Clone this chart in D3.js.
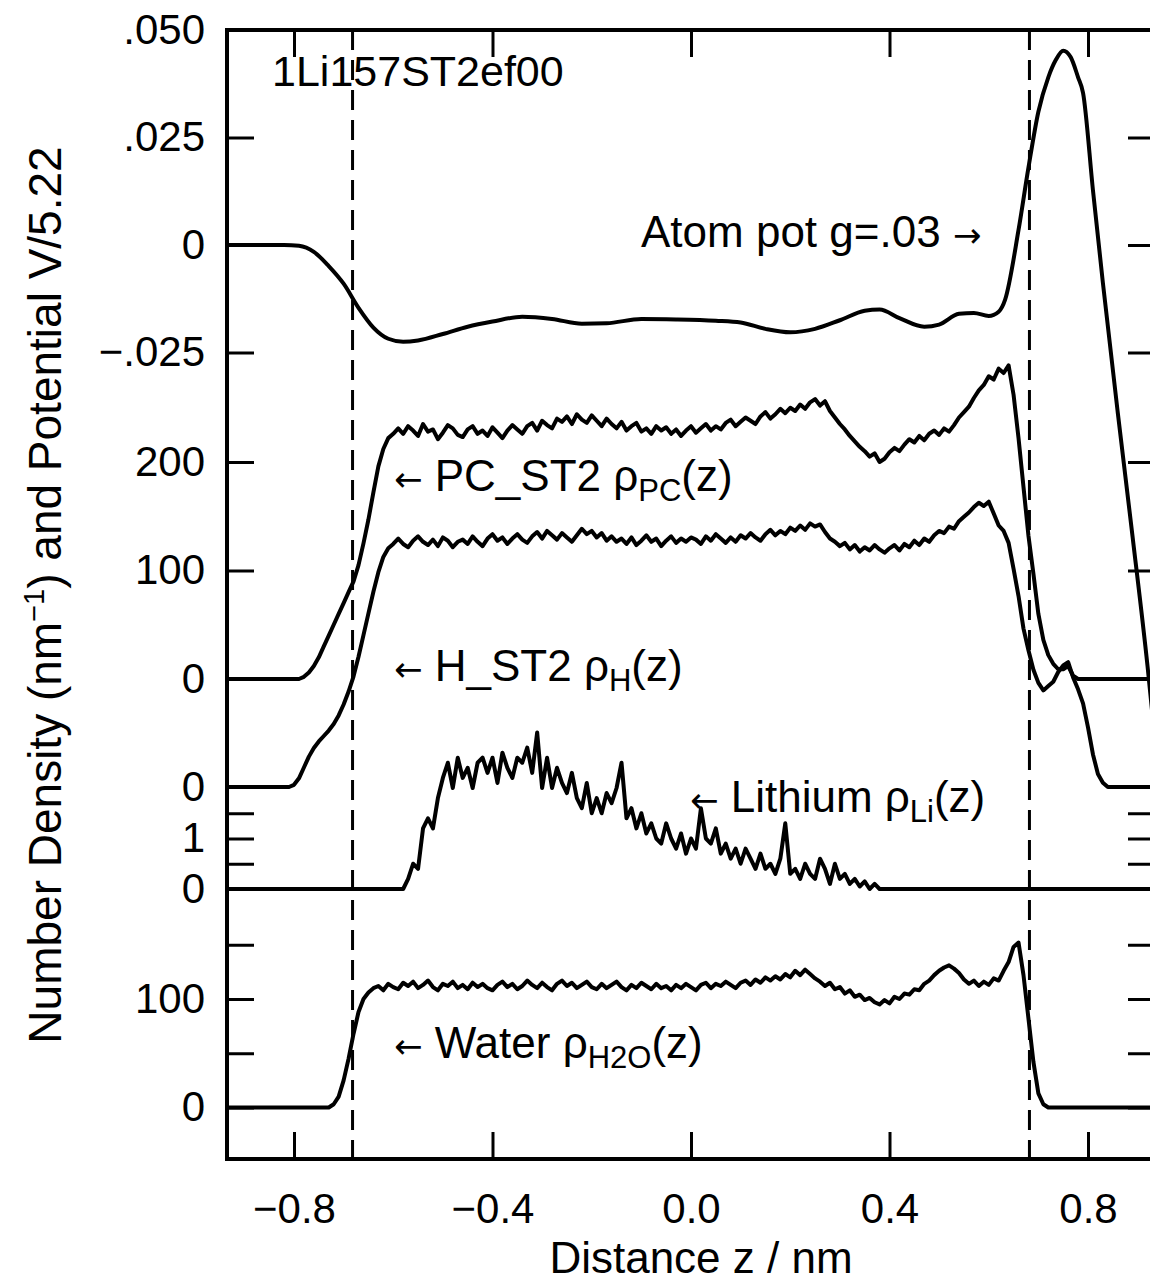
<!DOCTYPE html>
<html>
<head>
<meta charset="utf-8">
<script src="https://cdn.jsdelivr.net/npm/d3@7"></script>
<style>
  body { margin: 0; background: #fff; }
  svg { display: block; font-family: "Liberation Sans", Arial, Helvetica, sans-serif; }
</style>
</head>
<body>
<script>
// z grid used by the density profiles (nm)
const zStep = 0.01;
const zTicks = [-0.8, -0.4, 0, 0.4, 0.8];
const interfaceZ = [-0.682, 0.682];

// Atom potential V/5.22 (smooth curve) : [z, value]
const potPoints = [
  [-0.935, 0], [-0.82, 0], [-0.79, -0.0002], [-0.76, -0.0016], [-0.73, -0.0049], [-0.70, -0.009],
  [-0.67, -0.0146], [-0.64, -0.0192], [-0.61, -0.0218], [-0.58, -0.0225], [-0.55, -0.0222], [-0.50, -0.0207],
  [-0.45, -0.019], [-0.40, -0.0178], [-0.34, -0.0167], [-0.28, -0.0172], [-0.22, -0.0183], [-0.17, -0.0182],
  [-0.10, -0.0172], [-0.03, -0.0173], [0.05, -0.0176], [0.10, -0.018], [0.15, -0.0195], [0.20, -0.0203],
  [0.25, -0.0195], [0.30, -0.0175], [0.35, -0.0153], [0.38, -0.015], [0.42, -0.017], [0.47, -0.019],
  [0.50, -0.0185], [0.54, -0.016], [0.57, -0.0158], [0.60, -0.0165], [0.62, -0.0155], [0.633, -0.0127],
  [0.66, 0.0035], [0.68, 0.018], [0.70, 0.031], [0.72, 0.039], [0.735, 0.043], [0.75, 0.0452],
  [0.765, 0.0437], [0.78, 0.039], [0.79, 0.0354], [0.81, 0.0127], [0.83, -0.0088], [0.86, -0.039],
  [0.89, -0.068], [0.92, -0.098], [0.935, -0.115]
];

// PC_ST2 density (nm^-1), starts at z = -0.79
const pcStart = -0.79;
const pcValues = [
  0, 2, 6, 12, 20, 30, 40, 50, 60, 70, 80, 90, 105, 125, 147, 172, 196, 212, 222, 226,
  231, 226, 233, 229, 224, 235, 228, 230, 221, 227, 234, 231, 225, 223, 230, 233, 226, 229, 224, 232,
  227, 222, 229, 234, 230, 226, 233, 236, 229, 238, 234, 231, 240, 237, 242, 235, 244, 239, 236, 243,
  238, 233, 240, 235, 231, 237, 229, 233, 236, 228, 231, 226, 233, 229, 232, 226, 230, 224, 229, 233,
  227, 231, 235, 229, 233, 230, 236, 239, 233, 237, 241, 238, 235, 242, 246, 240, 244, 249, 245, 250,
  247, 253, 249, 255, 258, 252, 256, 247, 241, 235, 230, 224, 219, 214, 210, 205, 208, 200, 203, 209,
  213, 210, 216, 221, 218, 224, 220, 226, 229, 225, 231, 228, 234, 241, 246, 251, 259, 266, 271, 279,
  276, 286, 282, 289, 262, 222, 177, 132, 97, 60, 36, 22, 14, 9, 9, 12, 3, 0
];

// H_ST2 density (nm^-1), starts at z = -0.81
const hStart = -0.81;
const hValues = [
  0, 2, 8, 18, 28, 36, 42, 47, 52, 58, 66, 76, 88, 102, 120, 140, 160, 180, 198, 212, 220, 224,
  229, 224, 221, 227, 231, 226, 223, 228, 222, 230, 227, 221, 226, 228, 224, 231, 226, 222, 229, 233,
  227, 230, 224, 229, 233, 228, 225, 231, 235, 229, 236, 232, 228, 234, 230, 226, 232, 238, 233, 236,
  230, 234, 227, 231, 226, 229, 224, 230, 223, 227, 232, 226, 229, 222, 227, 231, 225, 229, 226, 230,
  228, 224, 231, 227, 233, 229, 225, 230, 226, 232, 229, 234, 230, 227, 233, 237, 232, 236, 233, 239,
  236, 241, 237, 243, 240, 242, 235, 229, 226, 222, 225, 219, 223, 217, 221, 218, 223, 219, 216, 220,
  223, 218, 224, 221, 227, 223, 229, 226, 232, 236, 234, 240, 238, 245, 249, 253, 258, 262, 259, 263,
  252, 241, 236, 225, 201, 176, 146, 126, 108, 96, 89, 93, 97, 106, 112, 115, 101, 90, 77, 55,
  30, 12, 4, 0
];

// Lithium density (nm^-1), starts at z = -0.58
const liStart = -0.58;
const liValues = [
  0, 0.2, 0.5, 0.4, 1.2, 1.4, 1.2, 1.8, 2.2, 2.5, 2.0, 2.6, 2.2, 2.4, 2.0, 2.5, 2.6, 2.3, 2.6, 2.1,
  2.7, 2.4, 2.2, 2.6, 2.5, 2.8, 2.3, 3.1, 2.0, 2.6, 2.0, 2.4, 2.1, 1.9, 2.3, 1.8, 1.6, 2.1, 1.5, 1.8,
  1.5, 1.9, 1.7, 2.0, 2.5, 1.4, 1.6, 1.2, 1.5, 1.1, 1.3, 1.0, 0.9, 1.3, 1.0, 0.8, 1.1, 0.7, 1.0, 0.8,
  1.6, 1.0, 0.9, 1.2, 0.7, 0.9, 0.6, 0.8, 0.5, 0.8, 0.6, 0.4, 0.7, 0.4, 0.5, 0.3, 0.6, 1.3, 0.3, 0.4,
  0.2, 0.5, 0.3, 0.2, 0.6, 0.4, 0.1, 0.5, 0.2, 0.3, 0.1, 0.2, 0.05, 0.15, 0, 0.1, 0
];

// Water density (nm^-1), starts at z = -0.73
const waterStart = -0.73;
const waterValues = [
  0, 3, 10, 25, 45, 68, 88, 100, 106, 110, 112,
  108, 114, 111, 109, 115, 112, 116, 110, 113, 117, 111, 108, 114, 112, 116, 110, 113, 109, 115, 111,
  114, 110, 108, 113, 116, 111, 114, 109, 112, 117, 113, 110, 115, 111, 108, 114, 117, 112, 115, 110,
  113, 116, 111, 109, 114, 110, 113, 116, 111, 108, 113, 110, 115, 112, 109, 114, 110, 112, 108, 113,
  110, 114, 111, 108, 113, 115, 110, 114, 112, 116, 113, 110, 115, 117, 113, 118, 115, 120, 117, 121,
  118, 123, 120, 126, 122, 127, 123, 119, 116, 112, 115, 109, 111, 105, 108, 102, 104, 99, 101, 97,
  95, 99, 96, 102, 100, 105, 104, 109, 108, 114, 117, 122, 126, 129, 131, 128, 124, 118, 114, 117,
  112, 116, 113, 119, 117, 126, 134, 148, 152, 122, 82, 42, 13, 3, 0
];

// Tick values and labels per panel
const potTicks = [0.05, 0.025, 0, -0.025];
const potLabels = [".050", ".025", "0", "\u2212.025"];
const pcTicks = [200, 100, 0];
const pcLabels = ["200", "100", "0"];
const hTicks = [0];
const hLabels = ["0"];
const liTicks = [1.5, 1, 0.5, 0];
const liLabels = ["", "1", "", "0"];
const waterTicks = [150, 100, 50, 0];
const waterLabels = ["", "100", "", "0"];

const W = 1150, H = 1284;
const plotLeft = 227, plotRight = 1155, plotTop = 30, plotBottom = 1159;
const TICK = 27;
const FONT = 42;
const NOTE = 44;

const svg = d3.select("body").append("svg")
  .attr("width", W)
  .attr("height", H);

const x = d3.scaleLinear().domain([-0.935, 0.935]).range([plotLeft, plotRight]);

// one vertical scale per stacked panel
const potY = d3.scaleLinear().domain([0, 0.025]).range([245, 137.5]);
const pcY = d3.scaleLinear().domain([0, 100]).range([679, 570.5]);
const hY = d3.scaleLinear().domain([0, 100]).range([787, 678.5]);
const liY = d3.scaleLinear().domain([0, 1]).range([889, 838.5]);
const waterY = d3.scaleLinear().domain([0, 100]).range([1107.5, 999]);

const profile = (start, values) => [[-0.935, 0]]
  .concat(values.map((v, i) => [start + i * zStep, v]))
  .concat([[0.935, 0]]);

const series = [
  { data: potPoints, y: potY, curve: d3.curveMonotoneX },
  { data: profile(pcStart, pcValues), y: pcY, curve: d3.curveLinear },
  { data: profile(hStart, hValues), y: hY, curve: d3.curveLinear },
  { data: profile(liStart, liValues), y: liY, curve: d3.curveLinear },
  { data: profile(waterStart, waterValues), y: waterY, curve: d3.curveLinear }
];

// dashed interface lines
svg.selectAll(".interface")
  .data(interfaceZ)
  .enter()
  .append("line")
  .attr("class", "interface")
  .attr("x1", d => x(d))
  .attr("x2", d => x(d))
  .attr("y1", plotTop)
  .attr("y2", plotBottom)
  .attr("stroke", "#000")
  .attr("stroke-width", 3)
  .attr("stroke-dasharray", "20,10");

// curves
series.forEach(s => {
  const line = d3.line()
    .x(d => x(d[0]))
    .y(d => s.y(d[1]))
    .curve(s.curve);
  svg.append("path")
    .datum(s.data)
    .attr("d", line)
    .attr("fill", "none")
    .attr("stroke", "#000")
    .attr("stroke-width", 4)
    .attr("stroke-linejoin", "round");
});

// frame
svg.append("rect")
  .attr("x", plotLeft)
  .attr("y", plotTop)
  .attr("width", plotRight - plotLeft)
  .attr("height", plotBottom - plotTop)
  .attr("fill", "none")
  .attr("stroke", "#000")
  .attr("stroke-width", 4);

const styleAxis = (g) => {
  g.select(".domain").remove();
  g.selectAll(".tick line").attr("stroke", "#000").attr("stroke-width", 3);
  g.selectAll(".tick text")
    .attr("fill", "#000")
    .style("font-size", FONT + "px")
    .style("font-family", '"Liberation Sans", Arial, Helvetica, sans-serif');
};

// x axes
svg.append("g")
  .attr("transform", `translate(0,${plotBottom})`)
  .call(d3.axisBottom(x).tickValues(zTicks).tickSize(-TICK).tickPadding(34)
    .tickFormat(d => (d < 0 ? "\u2212" : "") + Math.abs(d).toFixed(1)))
  .call(styleAxis);

svg.append("g")
  .attr("transform", `translate(0,${plotTop})`)
  .call(d3.axisTop(x).tickValues(zTicks).tickSize(-TICK).tickFormat(""))
  .call(styleAxis);

// y axes, one pair per panel
const panels = [
  { y: potY, ticks: potTicks, labels: potLabels },
  { y: pcY, ticks: pcTicks, labels: pcLabels },
  { y: hY, ticks: hTicks, labels: hLabels },
  { y: liY, ticks: liTicks, labels: liLabels },
  { y: waterY, ticks: waterTicks, labels: waterLabels }
];

panels.forEach(p => {
  svg.append("g")
    .attr("transform", `translate(${plotLeft},0)`)
    .call(d3.axisLeft(p.y).tickValues(p.ticks).tickSize(-TICK).tickPadding(22)
      .tickFormat((d, i) => p.labels[i]))
    .call(styleAxis);
  svg.append("g")
    .attr("transform", `translate(${plotRight},0)`)
    .call(d3.axisRight(p.y).tickValues(p.ticks).tickSize(-TICK).tickFormat(""))
    .call(styleAxis);
});

// axis titles
svg.append("text")
  .attr("x", 701)
  .attr("y", 1273)
  .attr("text-anchor", "middle")
  .style("font-size", "44px")
  .text("Distance z / nm");

const yTitle = svg.append("text")
  .attr("transform", "translate(61,595) rotate(-90)")
  .attr("text-anchor", "middle")
  .style("font-size", "46px");
yTitle.append("tspan").text("Number Density (nm");
yTitle.append("tspan").attr("dy", -17).style("font-size", "29px").text("\u22121");
yTitle.append("tspan").attr("dy", 17).text(") and Potential V/5.22");

// annotations
svg.append("text")
  .attr("x", 272)
  .attr("y", 86)
  .style("font-size", "43px")
  .text("1Li157ST2ef00");

const arrowFont = '"DejaVu Sans", sans-serif';

const potLabel = svg.append("text")
  .attr("x", 641)
  .attr("y", 247)
  .style("font-size", NOTE + "px");
potLabel.append("tspan").text("Atom pot g=.03 ");
potLabel.append("tspan").style("font-size", "34px").style("font-family", arrowFont).text("\u2192");

const curveLabel = (px, py, name, sub, after) => {
  const t = svg.append("text")
    .attr("x", px)
    .attr("y", py)
    .style("font-size", NOTE + "px");
  t.append("tspan").style("font-size", "34px").style("font-family", arrowFont).text("\u2190");
  t.append("tspan").text(" " + name + " \u03c1");
  t.append("tspan").attr("dy", 10).style("font-size", "31px").text(sub);
  t.append("tspan").attr("dy", -10).text(after);
};

curveLabel(394, 491, "PC_ST2", "PC", "(z)");
curveLabel(394, 681, "H_ST2", "H", "(z)");
curveLabel(690, 812, "Lithium", "Li", "(z)");
curveLabel(394, 1058, "Water", "H2O", "(z)");
</script>
</body>
</html>
